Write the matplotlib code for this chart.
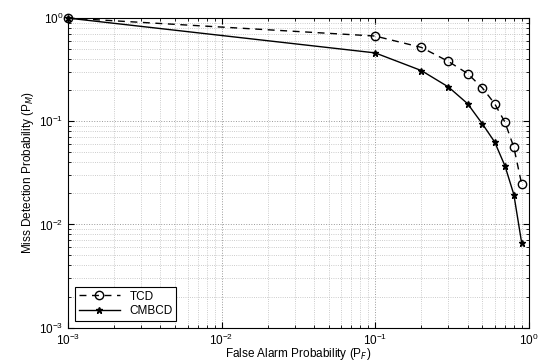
import numpy as np
import matplotlib
matplotlib.use('Agg')
import matplotlib.pyplot as plt

# values
pf = [0.001, 0.1, 0.2, 0.3, 0.4, 0.5, 0.6, 0.7, 0.8, 0.9]
pm_tcd = [1.0, 0.67, 0.52, 0.38, 0.29, 0.21, 0.148, 0.098, 0.056, 0.0245]
pm_cmbcd = [1.0, 0.46, 0.31, 0.215, 0.148, 0.094, 0.063, 0.037, 0.0195, 0.0066]


def main():
    plt.rcParams['font.family'] = ['Liberation Sans', 'DejaVu Sans']
    fig = plt.figure(figsize=(5.42, 3.62), dpi=100)
    ax = fig.add_axes([0.1255, 0.095, 0.850, 0.855])

    ax.loglog(pf, pm_tcd, 'k--', marker='o', markersize=6, markerfacecolor='none',
              markeredgewidth=1.0, linewidth=1.0, dashes=(5, 4), label='TCD',
              clip_on=False)
    ax.loglog(pf, pm_cmbcd, 'k-', marker='*', markersize=5, linewidth=1.0, label='CMBCD',
              clip_on=False)

    ax.set_xlim(1e-3, 1)
    ax.set_ylim(1e-3, 1)
    ax.grid(True, which='major', linestyle=':', color='#999999', linewidth=0.7)
    ax.grid(True, which='minor', linestyle=':', color='#bbbbbb', linewidth=0.6)

    ax.tick_params(which='both', direction='in', top=True, right=True, labelsize=8.5)
    ax.tick_params(which='major', length=4)
    ax.tick_params(which='minor', length=2)

    ax.set_xlabel('False Alarm Probability (P$_F$)', fontsize=8.5, labelpad=-1)
    ax.set_ylabel('Miss Detection Probability (P$_M$)', fontsize=8.5, labelpad=2)

    leg = ax.legend(loc='lower left', fontsize=8.5, fancybox=False, edgecolor='black',
                    framealpha=1, handlelength=3.5, borderaxespad=0.6,
                    borderpad=0.3, labelspacing=0.2)
    leg.get_frame().set_linewidth(0.8)

    fig.savefig('out.png', dpi=100)


if __name__ == '__main__':
    main()
